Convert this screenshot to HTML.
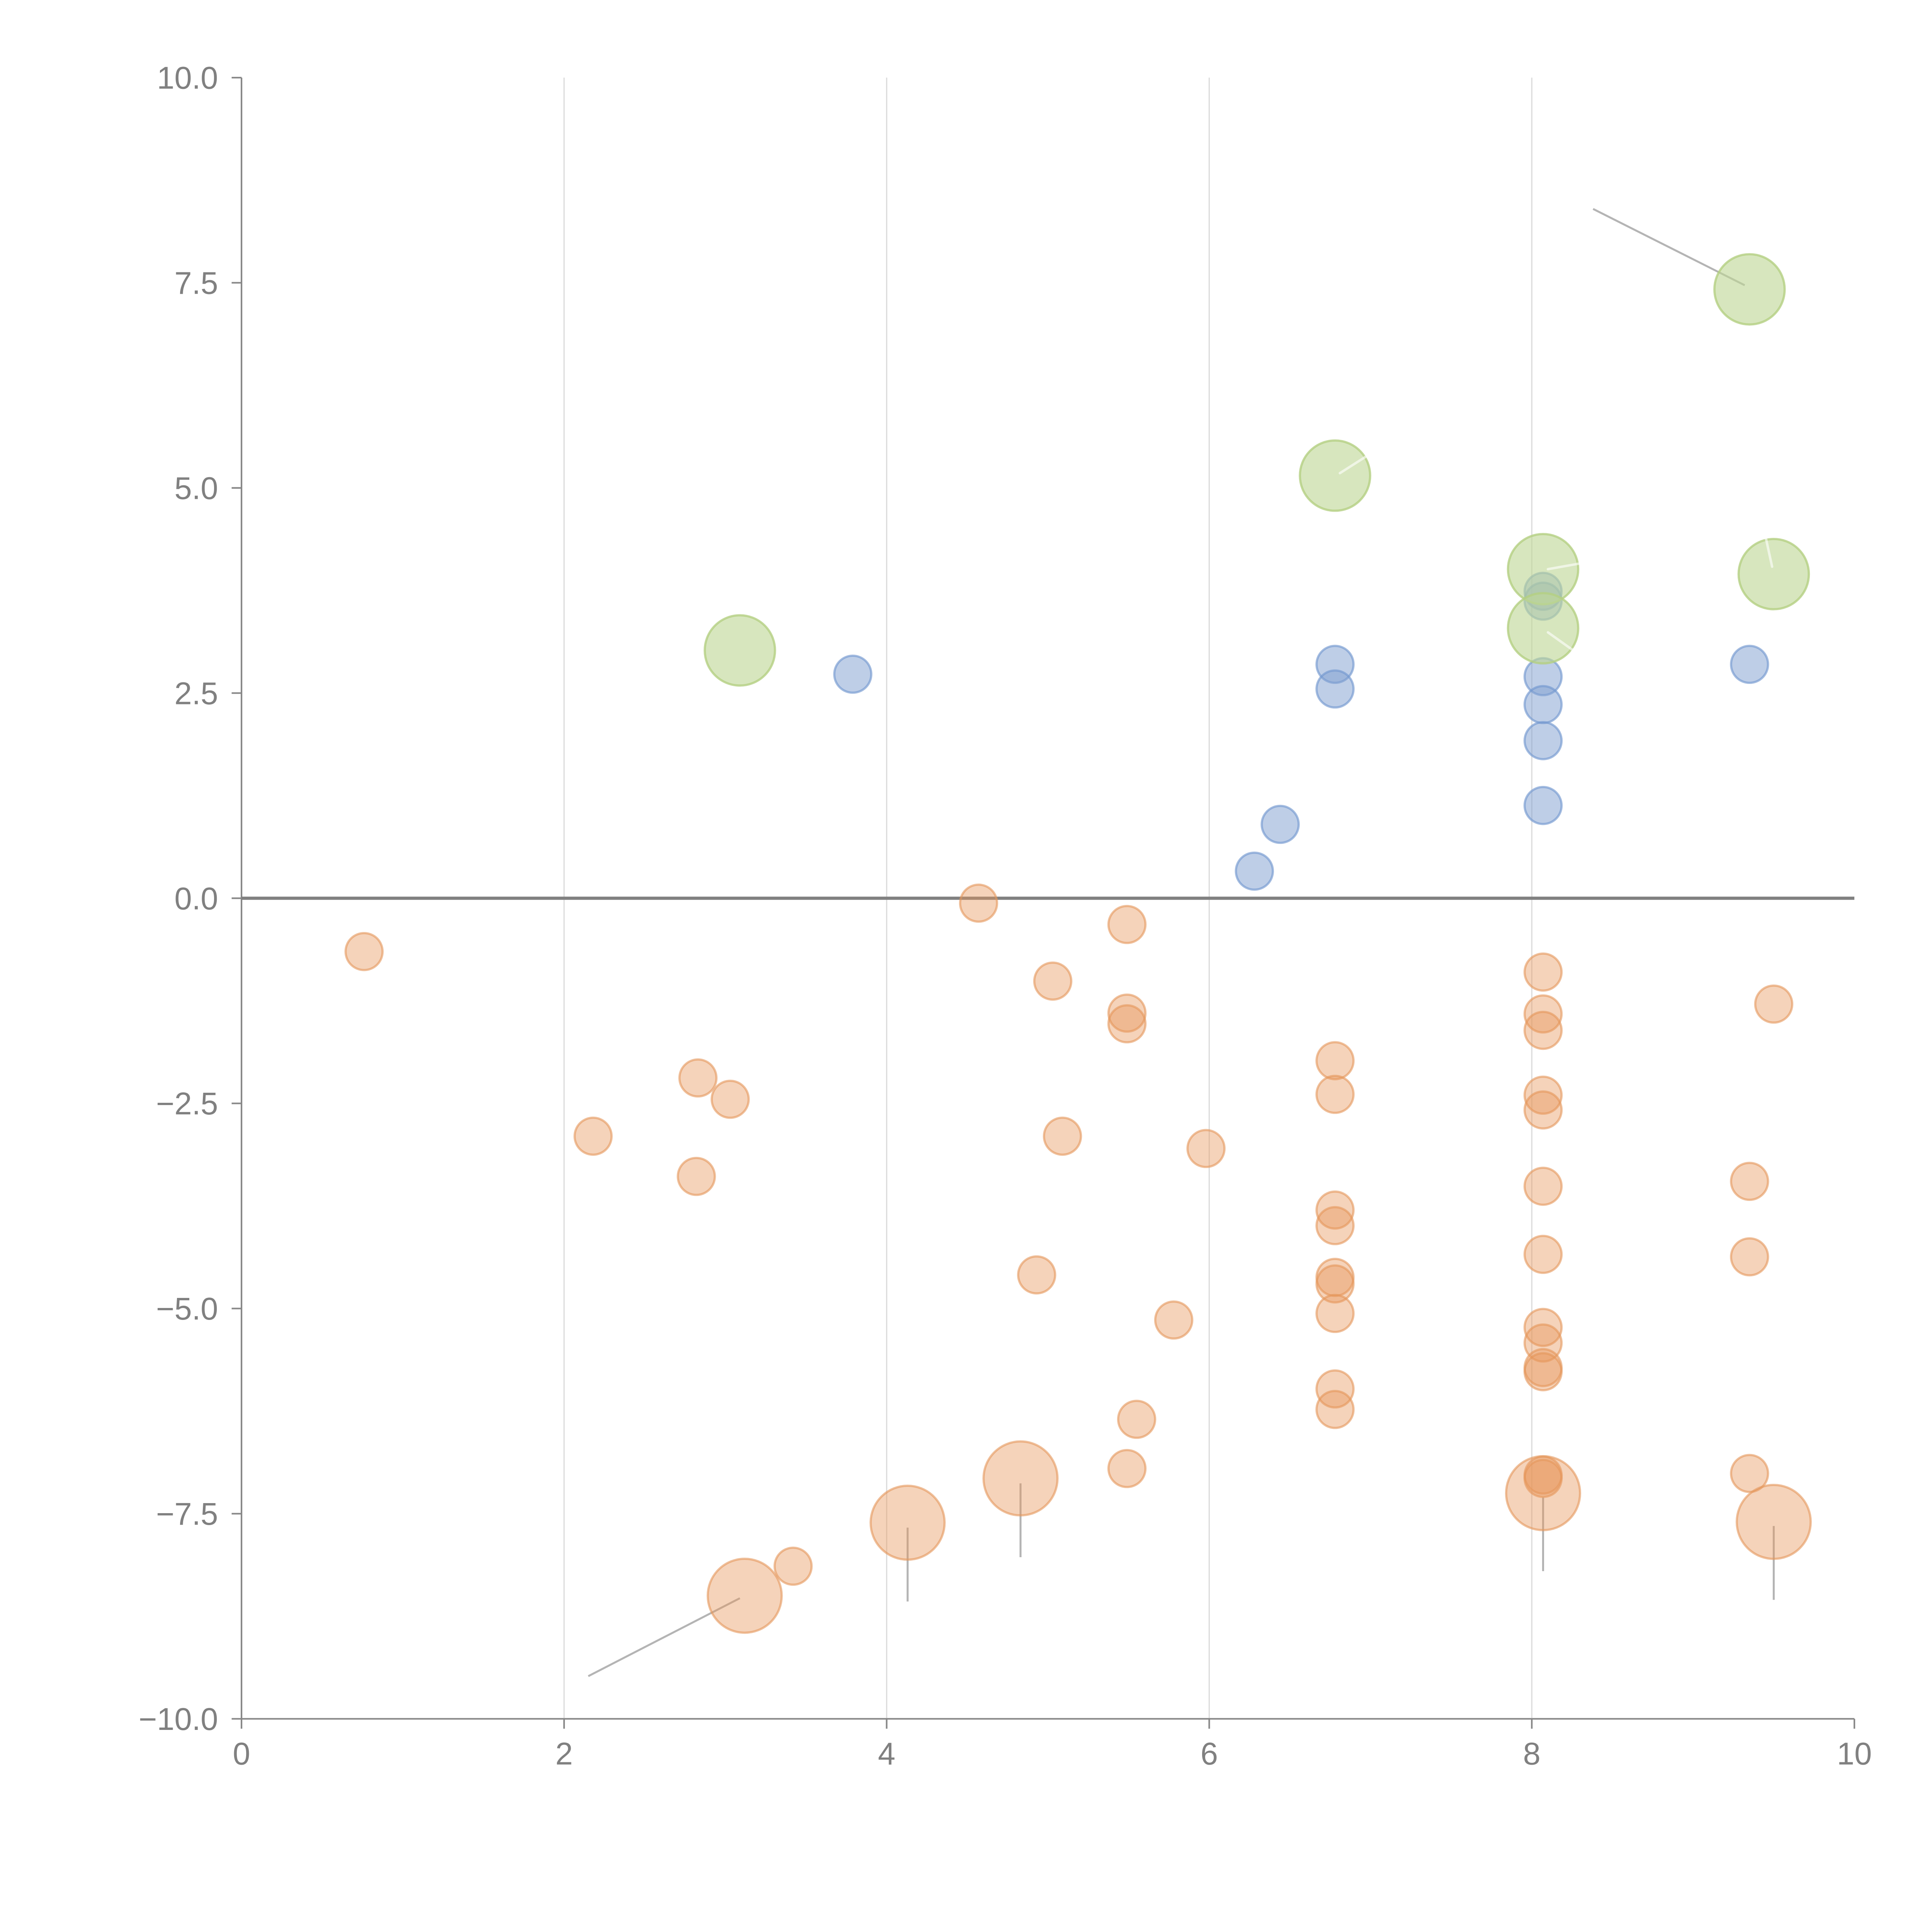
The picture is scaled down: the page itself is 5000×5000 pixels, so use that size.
<!DOCTYPE html>
<html><head><meta charset="utf-8"><style>
html,body{margin:0;padding:0;background:#fff}
svg{display:block}
text{font-family:"Liberation Sans",sans-serif;fill:#808080}
</style></head><body>
<svg id="chart" width="5000" height="5000" viewBox="0 0 1568 1568" xmlns="http://www.w3.org/2000/svg">
<g id="grid"></g>
<g id="axes"></g>
<g id="leaders"></g>
<g id="marks"></g>
</svg>
<script>
const xTicks = [0,2,4,6,8,10];
const yTicks = [10,7.5,5,2.5,0,-2.5,-5,-7.5,-10];
const yTickLabels = ["10.0","7.5","5.0","2.5","0.0","\u22122.5","\u22125.0","\u22127.5","\u221210.0"];
const orangeX = [0.76,2.18,2.83,3.03,2.82,4.57,5.49,5.03,5.49,5.49,5.09,5.98,4.93,5.78,5.55,5.49,3.42,6.78,6.78,6.78,6.78,6.78,6.78,6.78,6.78,6.78,8.07,8.07,8.07,8.07,8.07,8.07,8.07,8.07,8.07,8.07,8.07,8.07,8.07,9.50,9.35,9.35,9.35];
const orangeY = [-0.65,-2.90,-2.19,-2.45,-3.39,-0.06,-0.32,-1.01,-1.40,-1.53,-2.90,-3.05,-4.59,-5.14,-6.35,-6.95,-8.14,-1.98,-2.39,-3.80,-3.99,-4.62,-4.70,-5.06,-5.98,-6.23,-0.90,-1.41,-1.61,-2.40,-2.58,-3.51,-4.34,-5.23,-5.42,-5.72,-5.77,-7.03,-7.07,-1.29,-3.45,-4.37,-7.01];
const orangeBigX = [3.12,4.13,4.83,8.07,9.50];
const orangeBigY = [-8.50,-7.61,-7.07,-7.25,-7.60];
const blueX = [3.79,6.78,6.78,6.44,6.28,8.07,8.07,8.07,8.07,8.07,8.07,9.35];
const blueY = [2.73,2.85,2.55,0.90,0.33,3.74,3.62,2.70,2.36,1.92,1.13,2.85];
const greenX = [3.09,6.78,8.07,8.07,9.50,9.35];
const greenY = [3.02,5.15,4.01,3.29,3.95,7.42];
const leadX1 = [3.09,4.13,4.83,8.07,9.50,9.32];
const leadY1 = [-8.53,-7.67,-7.13,-7.30,-7.65,7.47];
const leadX2 = [2.15,4.13,4.83,8.07,9.50,8.38];
const leadY2 = [-9.48,-8.57,-8.03,-8.20,-8.55,8.40];
const wLeadX1 = [6.81,8.10,8.10,9.49];
const wLeadY1 = [5.18,4.01,3.24,4.04];
const wLeadX2 = [6.97,8.30,8.25,9.45];
const wLeadY2 = [5.38,4.08,3.03,4.40];

const X0=196, X1=1505, Y0=1395, Y1=63;
const sx = v => X0 + (v-0)/(10-0)*(X1-X0);
const sy = v => Y0 - (v+10)/20*(Y0-Y1);
const NS="http://www.w3.org/2000/svg";
function mk(tag, attrs, parent){const e=document.createElementNS(NS,tag);for(const k in attrs)e.setAttribute(k,attrs[k]);parent.appendChild(e);return e;}
const grid=document.getElementById('grid'), axes=document.getElementById('axes'), leaders=document.getElementById('leaders'), marks=document.getElementById('marks');

xTicks.forEach(t=>{
  if(t>0&&t<10){const l=mk('line',{x1:sx(t),x2:sx(t),y1:Y1,y2:Y0,stroke:'#dcdcdc','stroke-width':1},grid);
  
  }
  const tk=mk('line',{x1:sx(t),x2:sx(t),y1:Y0,y2:Y0+8,stroke:'#888','stroke-width':1.3},axes);
  
  
  const tx=mk('text',{x:sx(t),y:Y0+37,'text-anchor':'middle','font-size':25.5},axes);
  tx.textContent=String(t);
  
  
});
yTicks.forEach((t,i)=>{
  const tk=mk('line',{x1:X0-8,x2:X0,y1:sy(t),y2:sy(t),stroke:'#888','stroke-width':1.3},axes);
  
  
  const tx=mk('text',{x:X0-19,y:sy(t)+9,'text-anchor':'end','font-size':25.5},axes);
  tx.textContent=yTickLabels[i];
  
  
});
const ya=mk('line',{x1:X0,x2:X0,y1:Y1,y2:Y0,stroke:'#888','stroke-width':1.3},axes);


const xa=mk('line',{x1:X0,x2:X1,y1:Y0,y2:Y0,stroke:'#888','stroke-width':1.3},axes);


const zl=mk('line',{x1:X0,x2:X1,y1:sy(0),y2:sy(0),stroke:'#808080','stroke-width':2.6},axes);



function dots(xs,ys,r,fill,stroke,name){
  xs.forEach((x,i)=>{
    const c=mk('circle',{cx:sx(x),cy:sy(ys[i]),r:r,fill:fill,stroke:stroke,'stroke-width':1.8},marks);
    
    
  });
}
dots(orangeX,orangeY,15,'rgba(230,150,90,0.42)','rgba(228,150,90,0.6)','orange-bubble');
dots(orangeBigX,orangeBigY,30,'rgba(230,150,90,0.42)','rgba(228,150,90,0.6)','orange-large-bubble');
dots(blueX,blueY,15,'rgba(125,158,208,0.5)','rgba(115,152,208,0.65)','blue-bubble');
dots(greenX,greenY,28.5,'rgba(190,214,150,0.62)','rgba(180,208,130,0.8)','green-bubble');

leadX1.forEach((x,i)=>{
  const l=mk('line',{x1:sx(x),y1:sy(leadY1[i]),x2:sx(leadX2[i]),y2:sy(leadY2[i]),stroke:'#b4b4b4','stroke-width':1.6},leaders);
  
  
});
wLeadX1.forEach((x,i)=>{
  const l=mk('line',{x1:sx(x),y1:sy(wLeadY1[i]),x2:sx(wLeadX2[i]),y2:sy(wLeadY2[i]),stroke:'rgba(255,255,255,0.6)','stroke-width':2,'stroke-linecap':'round'},marks);
  
  
});
</script>
</body></html>
